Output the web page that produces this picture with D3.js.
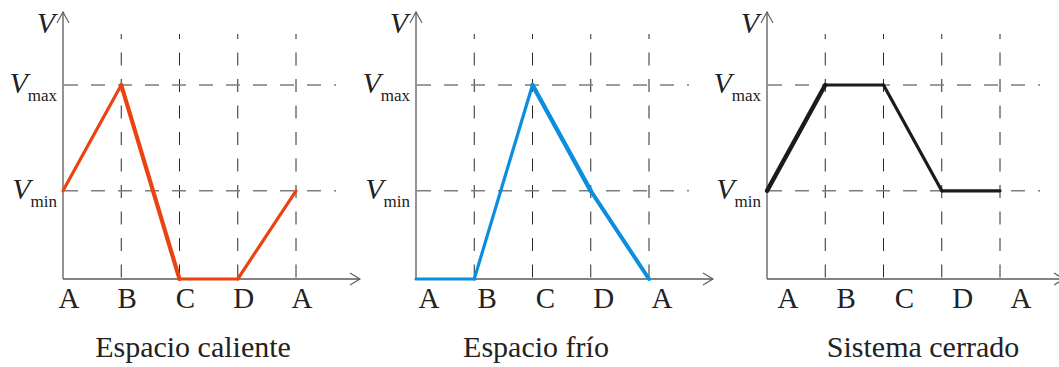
<!DOCTYPE html>
<html>
<head>
<meta charset="utf-8">
<script src="https://cdn.jsdelivr.net/npm/d3@7"></script>
<style>
  html, body { margin: 0; padding: 0; background: #fff; }
  svg { display: block; }
  text { font-family: "Liberation Serif", "Times New Roman", serif; fill: #222; }
</style>
</head>
<body>
<svg id="chart" width="1059" height="367"></svg>
<script>
// Stages of the cycle along the x axis
const stages = ["A", "B", "C", "D", "A"];

// Volume levels (relative units): 0 = empty, Vmin, Vmax
const levelValues = [1, 2.2];
const levelNames = ["min", "max"];

// Volume at each stage for each space
const hotValues = [1, 2.2, 0, 0, 1];
const coldValues = [0, 0, 2.2, 1, 0];
const closedValues = [1, 2.2, 2.2, 1, 1];

const titles = ["Espacio caliente", "Espacio frío", "Sistema cerrado"];

// Presentation settings for each panel
const panels = [
  { values: hotValues,    left: 63,  color: "#ea4210", labelShift: 6,  titleX: 130, widths: [3.2, 4.2, 3.2, 3.2] },
  { values: coldValues,   left: 416, color: "#0a8ee0", labelShift: 13, titleX: 120, widths: [3.2, 3.2, 4.4, 4.0] },
  { values: closedValues, left: 767, color: "#1c1a1a", labelShift: 21, titleX: 156, widths: [4.4, 3.2, 3.2, 3.2] }
];

const svg = d3.select("#chart");
const baseY = 279, topY = 12, gridTop = 34;

const y = d3.scaleLinear().domain([0, 2.2]).range([baseY, 85]);

panels.forEach((p, k) => {
  const g = svg.append("g").attr("transform", `translate(${p.left},0)`);
  const x = d3.scalePoint().domain(d3.range(stages.length)).range([0, 233]);

  // vertical dashed guides at every stage after the first
  g.selectAll("line.vguide")
    .data(d3.range(1, stages.length))
    .join("line")
    .attr("x1", i => x(i)).attr("x2", i => x(i))
    .attr("y1", gridTop).attr("y2", baseY)
    .attr("stroke", "#2a2a2a").attr("stroke-width", 1)
    .attr("stroke-dasharray", "13,13.5").attr("stroke-dashoffset", 8);

  // horizontal dashed guides at Vmin and Vmax
  g.selectAll("line.hguide")
    .data(levelValues)
    .join("line")
    .attr("x1", 0).attr("x2", 273)
    .attr("y1", d => y(d)).attr("y2", d => y(d))
    .attr("stroke", "#7c7c7c").attr("stroke-width", 1.6)
    .attr("stroke-dasharray", "14,13").attr("stroke-dashoffset", -1);

  // axes with open arrowheads
  const axisColor = "#5a5a5a";
  g.append("line").attr("x1", 0).attr("x2", 0).attr("y1", baseY).attr("y2", topY)
    .attr("stroke", axisColor).attr("stroke-width", 1.3);
  g.append("path").attr("d", `M-6,${topY + 11}L0,${topY}L6,${topY + 11}`)
    .attr("fill", "none").attr("stroke", axisColor).attr("stroke-width", 1.1);
  const xEnd = 297;
  g.append("line").attr("x1", 0).attr("x2", xEnd).attr("y1", baseY).attr("y2", baseY)
    .attr("stroke", axisColor).attr("stroke-width", 1.3);
  g.append("path").attr("d", `M${xEnd - 10},${baseY - 6}L${xEnd},${baseY}L${xEnd - 10},${baseY + 6}`)
    .attr("fill", "none").attr("stroke", axisColor).attr("stroke-width", 1.1);

  // level labels V_min / V_max
  levelValues.forEach((v, j) => {
    const t = g.append("text").attr("text-anchor", "end")
      .attr("x", -6).attr("y", y(v) + 8);
    t.append("tspan").attr("font-style", "italic").attr("font-size", 30).text("V");
    t.append("tspan").attr("font-size", 17).attr("dy", 8).text(levelNames[j]);
  });

  // axis title V
  g.append("text").attr("text-anchor", "end").attr("x", -8).attr("y", 33)
    .attr("font-style", "italic").attr("font-size", 30).text("V");

  // stage labels
  g.selectAll("text.stage")
    .data(stages)
    .join("text")
    .attr("x", (d, i) => x(i) + p.labelShift)
    .attr("y", 308)
    .attr("text-anchor", "middle")
    .attr("font-size", 29)
    .text(d => d);

  // volume curve, drawn segment by segment
  const pts = p.values.map((v, i) => [x(i), y(v)]);
  g.selectAll("path.seg")
    .data(d3.range(pts.length - 1))
    .join("path")
    .attr("d", i => d3.line()([pts[i], pts[i + 1]]))
    .attr("fill", "none")
    .attr("stroke", p.color)
    .attr("stroke-width", i => p.widths[i])
    .attr("stroke-linecap", "round")
    .attr("stroke-linejoin", "round");

  // panel title
  g.append("text").attr("x", p.titleX).attr("y", 357)
    .attr("text-anchor", "middle").attr("font-size", 30).text(titles[k]);
});
</script>
</body>
</html>
